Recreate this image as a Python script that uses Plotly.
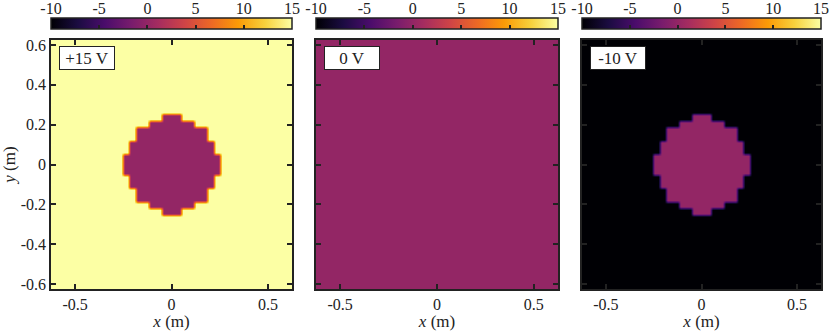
import numpy as np
import plotly.graph_objects as go

# three bias cases, one panel each
LABELS = ["+15 V", "0 V", "-10 V"]
BACKGROUND = [15, 0, -10]
DISC_VALUE = [0, 0, 0]

# square grid over [-HALF_SIZE, HALF_SIZE]
GRID_N = 37
HALF_SIZE = 0.625

# pixelated disc ('#' = inside the disc)
DISC_ROWS = [
    "......###......",
    "....#######....",
    "..###########..",
    "..###########..",
    ".#############.",
    ".#############.",
    "###############",
    "###############",
    "###############",
    ".#############.",
    ".#############.",
    "..###########..",
    "..###########..",
    "....#######....",
    "......###......",
]

CBAR_TICKS = [-10, -5, 0, 5, 10, 15]
X_TICKS = [-0.5, 0, 0.5]
Y_TICKS = [-0.6, -0.4, -0.2, 0, 0.2, 0.4, 0.6]
ZMIN, ZMAX = -10, 15

FONT = "Liberation Serif, DejaVu Serif, serif"
INK = "#222"

W, H = 830, 331
M_L, M_R, M_T, M_B = 51, 9, 18, 42
PANEL_PX = [(51, 292), (316, 558), (582, 821)]   # left/right edges
PLOT_TOP_PX, PLOT_BOT_PX = 40, 289
CBAR_BOT_PX = 31


def label(v):
    return "%g" % v


def build_field(bg, disc):
    grid = np.full((GRID_N, GRID_N), float(bg))
    mask = np.array([[c == "#" for c in row] for row in DISC_ROWS])
    m = mask.shape[0]
    o = (GRID_N - m) // 2
    sub = grid[o:o + m, o:o + m]
    sub[mask] = disc
    # repeat each cell 2x2 so the smoothing only softens the cell edges
    return np.kron(grid, np.ones((2, 2)))


plot_w = W - M_L - M_R
plot_h = H - M_T - M_B
domains = [((a - M_L) / plot_w, (b - M_L) / plot_w) for a, b in PANEL_PX]
main_top = (H - M_B - PLOT_TOP_PX) / plot_h
cbar_bot = (H - M_B - CBAR_BOT_PX) / plot_h

fig = go.Figure()
step = 2 * HALF_SIZE / (GRID_N * 2)
tfont = dict(family=FONT, size=16, color=INK)
title_font = dict(family=FONT, size=17, color=INK)

layout_axes = {}
for i in range(3):
    z = build_field(BACKGROUND[i], DISC_VALUE[i])
    d0, d1 = domains[i]
    xa = "x" if i == 0 else "x%d" % (i + 1)
    ya = "y" if i == 0 else "y%d" % (i + 1)
    fig.add_trace(go.Heatmap(
        z=z,
        x0=-HALF_SIZE + step / 2, dx=step,
        y0=-HALF_SIZE + step / 2, dy=step,
        zmin=ZMIN, zmax=ZMAX,
        colorscale="Inferno",
        zsmooth="best",
        hoverinfo="skip",
        xaxis=xa, yaxis=ya,
        colorbar=dict(
            orientation="h",
            x=d0, xanchor="left",
            y=1.0, yanchor="top",
            len=d1 - d0, lenmode="fraction",
            thickness=11, thicknessmode="pixels",
            outlinewidth=1.5, outlinecolor=INK,
            ticks="inside", ticklen=4, tickwidth=1.5, tickcolor=INK,
            tickvals=CBAR_TICKS,
            showticklabels=False,
            xpad=0, ypad=0,
        ),
    ))

    axis_common = dict(
        range=[-HALF_SIZE, HALF_SIZE],
        ticks="inside", ticklen=5, tickwidth=1.5, tickcolor=INK,
        showline=True, linewidth=1.5, linecolor=INK, mirror="ticks",
        showgrid=False, zeroline=False,
        tickfont=tfont,
    )
    layout_axes["xaxis" if i == 0 else "xaxis%d" % (i + 1)] = dict(
        domain=[d0, d1], anchor=ya,
        tickvals=X_TICKS, ticktext=[label(v) for v in X_TICKS],
        title=dict(text="<i>x</i> (m)", font=title_font, standoff=4),
        **axis_common)
    layout_axes["yaxis" if i == 0 else "yaxis%d" % (i + 1)] = dict(
        domain=[0, main_top], anchor=xa,
        tickvals=Y_TICKS, ticktext=[label(v) for v in Y_TICKS],
        showticklabels=(i == 0),
        title=dict(text="<i>y</i> (m)" if i == 0 else "", font=title_font, standoff=4),
        **axis_common)

    # empty axis sitting on the colour bar, carrying its tick labels on top
    k = i + 4
    fig.add_trace(go.Scatter(x=[], y=[], xaxis="x%d" % k, yaxis="y%d" % k,
                             hoverinfo="skip", showlegend=False))
    layout_axes["xaxis%d" % k] = dict(
        domain=[d0, d1], anchor="y%d" % k, side="top",
        range=[ZMIN, ZMAX], tickvals=CBAR_TICKS,
        ticktext=[label(v) for v in CBAR_TICKS],
        ticks="", showline=False, showgrid=False, zeroline=False,
        tickfont=tfont, ticklabelstandoff=0,
    )
    layout_axes["yaxis%d" % k] = dict(
        domain=[cbar_bot, 1.0], anchor="x%d" % k, visible=False,
    )

    fig.add_annotation(
        text=LABELS[i],
        xref="%s domain" % xa, yref="%s domain" % ya,
        x=0.033, y=0.977, xanchor="left", yanchor="top",
        showarrow=False,
        width=52, height=20, align="center",
        bgcolor="white", bordercolor=INK, borderwidth=1, borderpad=1,
        font=dict(family=FONT, size=17, color=INK),
    )

fig.update_layout(
    width=W, height=H,
    margin=dict(l=M_L, r=M_R, t=M_T, b=M_B, autoexpand=False),
    paper_bgcolor="white", plot_bgcolor="white",
    font=dict(family=FONT, color=INK),
    showlegend=False,
    **layout_axes,
)

# drop the page's default body margin so the figure sits at the window's corner
fig.write_html("out.html", config={"displayModeBar": False},
               post_script="document.body.style.margin='0px';"
                           "document.body.style.overflow='hidden';")
